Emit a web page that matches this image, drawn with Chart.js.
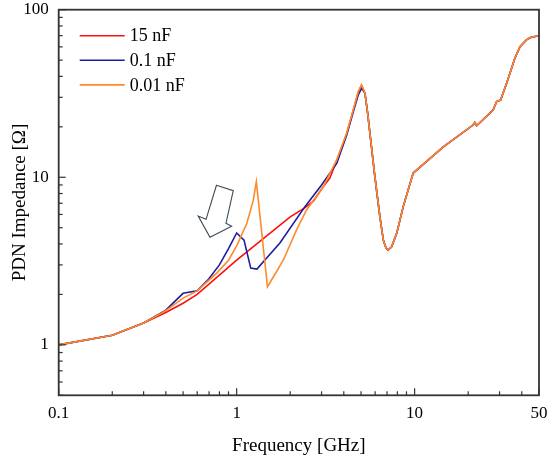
<!DOCTYPE html>
<html>
<head>
<meta charset="utf-8">
<script src="https://cdn.jsdelivr.net/npm/chart.js@4.4.0/dist/chart.umd.min.js"></script>
<style>
  body { margin: 0; background: #fff; }
  #wrap { width: 550px; height: 458px; }
</style>
</head>
<body>
<div id="wrap"><canvas id="grafico" width="550" height="458"></canvas></div>
<script>
// series labels and colours
const etiquetas = ['15 nF', '0.1 nF', '0.01 nF'];
const colores = ['#ff1010', '#1c1ca0', '#ff8a2a'];

// low frequency part of each curve (GHz / Ohm)
const redF = [0.1, 0.2, 0.3, 0.4, 0.5, 0.6, 1.0, 2.0, 2.4, 2.7, 3.07, 3.34, 3.65, 4.15, 4.52, 4.82, 5.03];
const redZ = [1.0, 1.14, 1.35, 1.56, 1.77, 2.0, 3.2, 5.8, 6.55, 7.2, 8.8, 9.9, 12.6, 18.2, 25.0, 32.2, 35.4];

const blueF = [0.1, 0.2, 0.3, 0.4, 0.5, 0.6, 0.69, 0.8, 0.9, 1.0, 1.1, 1.2, 1.3, 1.47, 1.75, 2.42, 3.0, 3.65, 4.15, 4.52, 4.82, 5.05];
const blueZ = [1.0, 1.14, 1.35, 1.61, 2.03, 2.1, 2.44, 3.0, 3.75, 4.65, 4.22, 2.87, 2.83, 3.29, 4.05, 6.68, 9.0, 12.1, 17.8, 24.5, 31.0, 34.0];

const orangeF = [0.1, 0.2, 0.3, 0.4, 0.5, 0.6, 0.77, 0.9, 1.0, 1.14, 1.24, 1.29, 1.49, 1.61, 1.83, 2.17, 2.47, 3.07, 3.65, 4.15, 4.52, 4.82, 5.03];
const orangeZ = [1.0, 1.14, 1.35, 1.6, 1.9, 2.1, 2.67, 3.2, 3.9, 5.3, 7.3, 9.4, 2.22, 2.55, 3.21, 4.85, 6.38, 8.8, 12.7, 18.3, 25.2, 32.4, 35.6];

// high frequency part, identical for the three capacitors
const tailF = [5.26, 5.45, 5.61, 5.98, 6.38, 6.67, 6.9, 7.11, 7.43, 7.93, 8.63, 9.82, 14.5, 21.3, 21.8, 22.3, 27.6, 28.9, 30.4, 32.9, 36.6, 39.1, 42.5, 44.5, 46.4, 50];
const tailZ = [31.7, 24.0, 18.3, 10.1, 5.82, 4.22, 3.8, 3.68, 3.85, 4.63, 6.68, 10.6, 15.2, 20.5, 21.2, 20.3, 25.2, 28.3, 28.9, 36.4, 51.3, 60.1, 66.0, 68.0, 69.0, 69.7];

// axes
const xTicks = [0.1, 0.2, 0.3, 0.4, 0.5, 0.6, 0.7, 0.8, 0.9, 1, 2, 3, 4, 5, 6, 7, 8, 9, 10, 20, 30, 40, 50];
const xLabels = [0.1, 1, 10, 50];
const yTicks = [0.5, 0.6, 0.7, 0.8, 0.9, 1, 2, 3, 4, 5, 6, 7, 8, 9, 10, 20, 30, 40, 50, 60, 70, 80, 90, 100];
const yLabels = [1, 10, 100];

// hollow arrow (annotation)
const arrowF = [0.770, 0.957, 0.871, 0.937, 0.708, 0.608, 0.673];
const arrowZ = [8.96, 8.32, 5.32, 5.10, 4.38, 5.87, 5.61];

function puntos(f, z) {
    return f.map(function (v, i) { return { x: v, y: z[i] }; });
}

const series = [
    puntos(redF.concat(tailF), redZ.concat(tailZ)),
    puntos(blueF.concat(tailF), blueZ.concat(tailZ)),
    puntos(orangeF.concat(tailF), orangeZ.concat(tailZ))
];

const fuente = 'Liberation Serif, Times New Roman, serif';

const marcoPlugin = {
    id: 'marco',
    afterDatasetsDraw(chart) {
        const ctx = chart.ctx;
        const a = chart.chartArea;
        const x = chart.scales.x;
        const y = chart.scales.y;
        ctx.save();

        // arrow
        ctx.strokeStyle = '#3b4a55';
        ctx.lineWidth = 1.1;
        ctx.beginPath();
        arrowF.forEach(function (f, i) {
            const px = x.getPixelForValue(f);
            const py = y.getPixelForValue(arrowZ[i]);
            if (i === 0) ctx.moveTo(px, py); else ctx.lineTo(px, py);
        });
        ctx.closePath();
        ctx.stroke();

        // inner ticks
        ctx.strokeStyle = '#333';
        ctx.lineWidth = 1.2;
        xTicks.forEach(function (v) {
            const px = x.getPixelForValue(v);
            const len = xLabels.indexOf(v) >= 0 ? 7 : 4;
            ctx.beginPath();
            ctx.moveTo(px, a.bottom);
            ctx.lineTo(px, a.bottom - len);
            ctx.stroke();
        });
        yTicks.forEach(function (v) {
            const py = y.getPixelForValue(v);
            const len = yLabels.indexOf(v) >= 0 ? 7 : 4;
            ctx.beginPath();
            ctx.moveTo(a.left, py);
            ctx.lineTo(a.left + len, py);
            ctx.stroke();
        });

        // frame
        ctx.lineWidth = 1.8;
        ctx.strokeRect(a.left, a.top, a.right - a.left, a.bottom - a.top);

        // legend
        ctx.font = '18px ' + fuente;
        ctx.textBaseline = 'middle';
        ctx.fillStyle = '#000';
        chart.data.datasets.forEach(function (ds, i) {
            const ly = a.top + 26 + i * 24.6;
            ctx.strokeStyle = ds.borderColor;
            ctx.lineWidth = 1.6;
            ctx.beginPath();
            ctx.moveTo(a.left + 21, ly);
            ctx.lineTo(a.left + 66, ly);
            ctx.stroke();
            ctx.fillText(ds.label, a.left + 71, ly + 1);
        });
        ctx.restore();
    }
};

const ctx = document.getElementById('grafico').getContext('2d');
const grafico = new Chart(ctx, {
    type: 'line',
    data: {
        datasets: [0, 1, 2].map(function (i) {
            return {
                label: etiquetas[i],
                data: series[i],
                borderColor: colores[i],
                borderWidth: 1.6,
                pointRadius: 0,
                tension: 0,
                fill: false,
                order: 2 - i
            };
        })
    },
    options: {
        responsive: false,
        animation: false,
        layout: { padding: { left: 0, right: 11, top: 9.7, bottom: 0 } },
        plugins: {
            legend: { display: false },
            tooltip: { enabled: false }
        },
        scales: {
            x: {
                type: 'logarithmic',
                min: 0.1,
                max: 50,
                afterBuildTicks: function (scale) {
                    scale.ticks = xTicks.map(function (v) { return { value: v }; });
                },
                afterFit: function (scale) {
                    scale.height = 62.7;
                    scale.paddingLeft = 0;
                    scale.paddingRight = 0;
                },
                grid: { display: false, drawTicks: false },
                border: { display: false },
                ticks: {
                    autoSkip: false,
                    maxRotation: 0,
                    padding: 8,
                    color: '#000',
                    font: { family: fuente, size: 17 },
                    callback: function (v) { return xLabels.indexOf(v) >= 0 ? String(v) : ''; }
                },
                title: {
                    display: true,
                    text: 'Frequency [GHz]',
                    color: '#000',
                    font: { family: fuente, size: 19 },
                    padding: { top: 0, bottom: 1 }
                }
            },
            y: {
                type: 'logarithmic',
                min: 0.5,
                max: 100,
                afterBuildTicks: function (scale) {
                    scale.ticks = yTicks.map(function (v) { return { value: v }; });
                },
                afterFit: function (scale) {
                    scale.width = 58.7;
                    scale.paddingTop = 0;
                    scale.paddingBottom = 0;
                },
                grid: { display: false, drawTicks: false },
                border: { display: false },
                ticks: {
                    autoSkip: false,
                    padding: 10,
                    color: '#000',
                    font: { family: fuente, size: 17 },
                    callback: function (v) { return yLabels.indexOf(v) >= 0 ? String(v) : ''; }
                },
                title: {
                    display: true,
                    text: 'PDN Impedance [Ω]',
                    color: '#000',
                    font: { family: fuente, size: 19 },
                    padding: { top: 9, bottom: 0 }
                }
            }
        }
    },
    plugins: [marcoPlugin]
});
</script>
</body>
</html>
